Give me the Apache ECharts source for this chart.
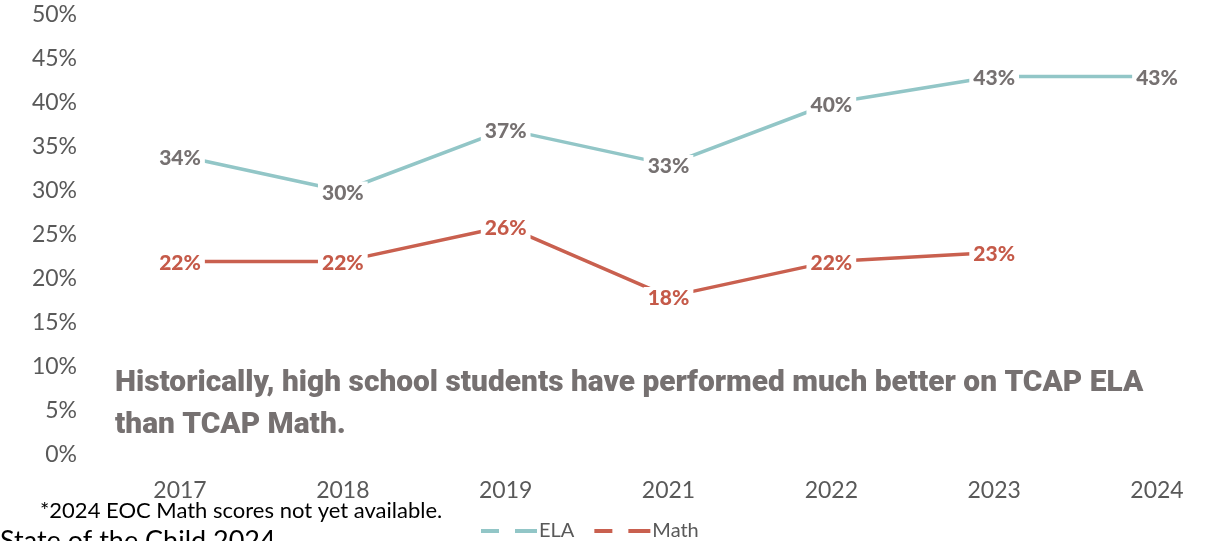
<!DOCTYPE html>
<html><head><meta charset="utf-8">
<script src="https://cdn.jsdelivr.net/npm/echarts@6/dist/echarts.min.js"></script>
<style>html,body{margin:0;padding:0;background:#fff}#c{width:1220px;height:541px}</style>
</head><body><div id="c"></div>
<script>
const years = ['2017','2018','2019','2021','2022','2023','2024'];
const ela = [34, 30, 37, 33, 40, 43, 43];
const math = [22, 22, 26, 18, 22, 23, null];
const yTicks = [0, 5, 10, 15, 20, 25, 30, 35, 40, 45, 50];
const note = 'Historically, high school students have performed much better on TCAP ELA\nthan TCAP Math.';
const footnote = '*2024 EOC Math scores not yet available.';
const source = 'State of the Child 2024';

const chart = echarts.init(document.getElementById('c'));
const lab = (color) => ({
  show: true, position: 'inside', formatter: p => p.value + '%', offset: [0, 2],
  fontFamily: 'Lato', fontWeight: 900, fontSize: 21, color: color,
  backgroundColor: '#fff', padding: [1, 4]
});
chart.setOption({
  animation: false,
  grid: { left: 180, right: 63, top: 15, bottom: 86, containLabel: false },
  xAxis: {
    type: 'category', data: years, boundaryGap: false,
    axisLine: { show: false }, axisTick: { show: false },
    axisLabel: { fontFamily: 'Lato', fontSize: 23, color: '#595959', margin: 24 }
  },
  yAxis: {
    type: 'value', min: yTicks[0], max: yTicks[yTicks.length - 1], interval: 5,
    splitLine: { show: false }, axisLine: { show: false }, axisTick: { show: false },
    axisLabel: { fontFamily: 'Lato', fontSize: 23, color: '#595959', formatter: v => v + '%', margin: 103 }
  },
  legend: {
    bottom: -5, left: 476, itemWidth: 56, itemHeight: 4, itemGap: 20,
    textStyle: { fontFamily: 'Lato', fontSize: 20, color: '#595959', padding: [0, 0, 0, -3] },
    data: [
      { name: 'ELA', icon: 'path://M0,0H18V4H0Z M34,0H56V4H34Z' },
      { name: 'Math', icon: 'path://M0,0H18V4H0Z M34,0H56V4H34Z' }
    ]
  },
  series: [
    { name: 'ELA', type: 'line', data: ela, symbol: 'circle', symbolSize: 0, showSymbol: true, z: 2,
      lineStyle: { color: '#92C6C7', width: 3.5 }, itemStyle: { color: '#92C6C7' },
      label: lab('#767171') },
    { name: 'Math', type: 'line', data: math, symbol: 'circle', symbolSize: 0, showSymbol: true, z: 3,
      lineStyle: { color: '#C9604F', width: 3.5 }, itemStyle: { color: '#C9604F' },
      label: lab('#C55A49') }
  ],
  graphic: [
    { type: 'text', left: 115, top: 363, scaleX: 1.03, style: { text: note, fontFamily: 'Roboto', fontWeight: 900, fontSize: 29, lineHeight: 42, fill: '#767171' } },
    { type: 'text', left: 40, top: 500, style: { text: footnote, fontFamily: 'Lato', fontSize: 22, fill: '#000' } },
    { type: 'text', left: 0, top: 528, style: { text: source, fontFamily: 'Lato', fontSize: 27, fill: '#000' } }
  ]
});
</script></body></html>
